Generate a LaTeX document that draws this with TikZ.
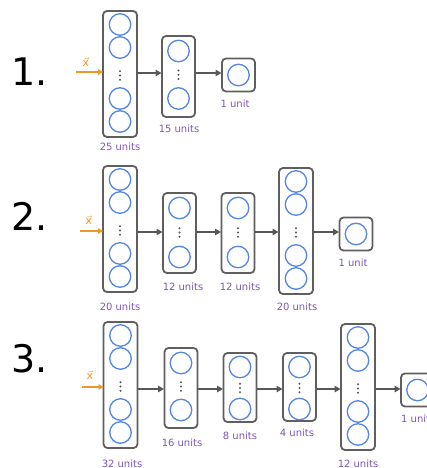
\documentclass[tikz,border=0pt]{standalone}
\usepackage{fontspec}
\setmainfont{DejaVu Sans}
\setsansfont{DejaVu Sans}
\usetikzlibrary{arrows.meta}
\definecolor{boxgray}{RGB}{95,95,95}
\definecolor{nblue}{RGB}{85,135,228}
\definecolor{lpurple}{RGB}{128,88,182}
\definecolor{inorange}{RGB}{238,152,40}
\definecolor{arrgray}{RGB}{88,88,88}
\tikzset{
  layerbox/.style={draw=boxgray, line width=1.8pt, rounded corners=4pt, fill=white, inner sep=0pt, outer sep=0pt},
  neuron/.style={circle, draw=nblue, line width=1.3pt, minimum size=21.5pt, inner sep=0pt},
  lbl/.style={text=lpurple, font=\fontsize{10}{12}\selectfont, inner sep=0pt},
  num/.style={font=\fontsize{38}{40}\selectfont, inner sep=0pt, anchor=base west},
  conn/.style={draw=arrgray, line width=1.6pt, -{Triangle[length=6pt,width=6.5pt]}, shorten >=0.5pt},
  inarrow/.style={draw=inorange, line width=1.6pt, -{Triangle[length=5pt,width=5.5pt]}},
  xlab/.style={text=inorange, font=\fontsize{11}{12}\selectfont, inner sep=0pt}
}
\newcommand\Vdts[2]{\fill[arrgray] (#1,#2-4.2) circle (1.1pt) (#1,#2) circle (1.1pt) (#1,#2+4.2) circle (1.1pt);}
\newcommand\TallLayer[3]{%
  \node[layerbox, minimum width=34pt, minimum height=126pt] (#1) at (#2,#3+63) {};
  \node[neuron] (#1-1) at (#2,#3+13.5) {};
  \node[neuron] (#1-2) at (#2,#3+36.5) {};
  \Vdts{#2}{#3+64.5}
  \node[neuron] (#1-3) at (#2,#3+87.5) {};
  \node[neuron] (#1-4) at (#2,#3+110.5) {};
}
\newcommand\MidLayer[6]{% name cx top h off1 off2
  \node[layerbox, minimum width=33pt, minimum height=#4pt] (#1) at (#2,#3+#4/2) {};
  \node[neuron] (#1-1) at (#2,#3+#5) {};
  \node[neuron] (#1-2) at (#2,#3+#6) {};
  \Vdts{#2}{#3+#5/2+#6/2}
}
\newcommand\OutLayer[3]{%
  \node[layerbox, minimum width=33pt, minimum height=33pt] (#1) at (#2,#3) {};
  \node[neuron] (#1-1) at (#2,#3) {};
}
\begin{document}
\begin{tikzpicture}[x=1pt,y=-1pt]
\useasboundingbox (0,0) rectangle (427,468);
\clip (0,0) rectangle (427,468);
\fill[white] (0,0) rectangle (427,468);

% ---------- Row 1 ----------
\node[num] (n1) at (11,86) {1.};
\coordinate (r1y) at (0,73);
\TallLayer{a1}{120}{11}
\MidLayer{b1}{178.5}{36}{81}{15}{62.5}
\OutLayer{c1}{238.5}{75}
\node[lbl] (la1) at (120,147) {25 units};
\node[lbl] (lb1) at (179,129) {15 units};
\node[lbl] (lc1) at (235,104) {1 unit};
\coordinate (in1) at (76,72);
\draw[inarrow] (in1) -- (a1.west |- in1);
\node[xlab] (x1) at (86,62) {$\vec{\textsf{x}}$};
\draw[conn] (a1.east |- r1y) -- (b1.west |- r1y);
\draw[conn] (b1.east |- r1y) -- (c1.west |- r1y);

% ---------- Row 2 ----------
\node[num] (n2) at (11,230) {2.};
\coordinate (r2y) at (0,232);
\TallLayer{a2}{120}{166}
\MidLayer{b2}{179.5}{193}{80}{15}{64}
\MidLayer{c2}{238}{193}{80}{15}{64}
\TallLayer{d2}{296}{168}
\OutLayer{e2}{356}{234}
\node[lbl] (la2) at (120,307) {20 units};
\node[lbl] (lb2) at (183,287) {12 units};
\node[lbl] (lc2) at (240,287) {12 units};
\node[lbl] (ld2) at (297,307) {20 units};
\node[lbl] (le2) at (353,263) {1 unit};
\coordinate (in2) at (80,231);
\draw[inarrow] (in2) -- (a2.west |- in2);
\node[xlab] (x2) at (89,220) {$\vec{\textsf{x}}$};
\draw[conn] (a2.east |- r2y) -- (b2.west |- r2y);
\draw[conn] (b2.east |- r2y) -- (c2.west |- r2y);
\draw[conn] (c2.east |- r2y) -- (d2.west |- r2y);
\draw[conn] (d2.east |- r2y) -- (e2.west |- r2y);

% ---------- Row 3 ----------
\node[num] (n3) at (11,372) {3.};
\coordinate (r3y) at (0,389);
\TallLayer{a3}{120.5}{322}
\MidLayer{b3}{181}{348}{80}{15}{62}
\MidLayer{c3}{240}{353}{69}{14}{56}
\MidLayer{d3}{299.5}{353}{68}{14}{56}
\TallLayer{e3}{358}{324}
\OutLayer{f3}{417.5}{390}
\node[lbl] (la3) at (122,464) {32 units};
\node[lbl] (lb3) at (182,443) {16 units};
\node[lbl] (lc3) at (240,436) {8 units};
\node[lbl] (ld3) at (297,433) {4 units};
\node[lbl] (le3) at (358,464) {12 units};
\node[lbl, anchor=west] (lf3) at (401,419) {1 unit};
\coordinate (in3) at (82,387);
\draw[inarrow] (in3) -- (a3.west |- in3);
\node[xlab] (x3) at (90,375) {$\vec{\textsf{x}}$};
\draw[conn] (a3.east |- r3y) -- (b3.west |- r3y);
\draw[conn] (b3.east |- r3y) -- (c3.west |- r3y);
\draw[conn] (c3.east |- r3y) -- (d3.west |- r3y);
\draw[conn] (d3.east |- r3y) -- (e3.west |- r3y);
\draw[conn] (e3.east |- r3y) -- (f3.west |- r3y);
\end{tikzpicture}
\end{document}
